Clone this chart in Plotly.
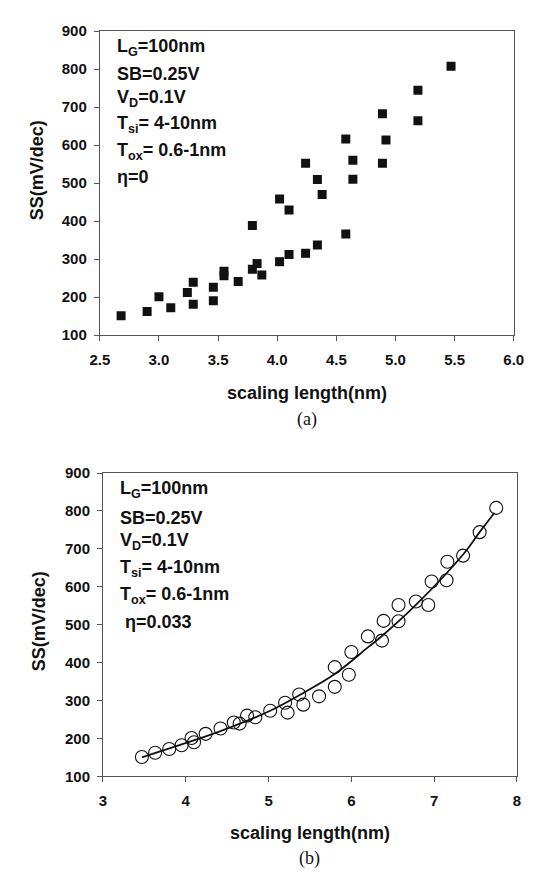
import plotly.graph_objects as go

W, H = 534, 879

# ---- data (a): eta = 0 ----
len_a = [2.68, 2.90, 3.00, 3.10, 3.24, 3.29, 3.29, 3.46, 3.46, 3.55, 3.55, 3.67,
         3.79, 3.79, 3.83, 3.87, 4.02, 4.02, 4.10, 4.10, 4.24, 4.24, 4.34, 4.34,
         4.38, 4.58, 4.58, 4.64, 4.64, 4.89, 4.89, 4.92, 5.19, 5.19, 5.47]
ss_a = [151, 162, 201, 172, 212, 239, 181, 226, 190, 268, 256, 241,
        388, 273, 288, 258, 458, 293, 429, 312, 552, 315, 509, 337,
        470, 616, 366, 560, 510, 682, 552, 613, 744, 664, 807]

# ---- data (b): eta = 0.033 ----
len_b = [3.47, 3.63, 3.80, 3.95, 4.07, 4.10, 4.24, 4.42, 4.58, 4.65, 4.74, 4.84,
         5.02, 5.20, 5.23, 5.37, 5.42, 5.61, 5.80, 5.80, 5.97, 6.00, 6.20, 6.37,
         6.39, 6.57, 6.57, 6.78, 6.93, 6.97, 7.15, 7.16, 7.35, 7.55, 7.75]
ss_b = [151, 162, 172, 182, 201, 190, 212, 226, 242, 239, 260, 256,
        273, 294, 268, 316, 289, 311, 336, 388, 368, 428, 469, 458,
        510, 509, 552, 561, 552, 614, 617, 666, 682, 744, 808]

# fitted curve
fit_x = [3.47, 3.95, 4.42, 5.02, 5.37, 5.80, 6.20, 6.37, 6.78, 7.35, 7.55, 7.73]
fit_y = [150, 184, 219, 273, 314, 370, 440, 470, 552, 685, 744, 795]

x_ticks_a = [2.5, 3.0, 3.5, 4.0, 4.5, 5.0, 5.5, 6.0]
x_ticks_b = [3, 4, 5, 6, 7, 8]
y_ticks = [100, 200, 300, 400, 500, 600, 700, 800, 900]

info_a = ["L<sub>G</sub>=100nm", "SB=0.25V", "V<sub>D</sub>=0.1V",
          "T<sub>si</sub>= 4-10nm", "T<sub>ox</sub>= 0.6-1nm", "η=0"]
info_b = ["L<sub>G</sub>=100nm", "SB=0.25V", "V<sub>D</sub>=0.1V",
          "T<sub>si</sub>= 4-10nm", "T<sub>ox</sub>= 0.6-1nm", " η=0.033"]


def px(x):
    return x / W


def py(y):
    return 1 - y / H


FONT = "Liberation Sans, Arial, sans-serif"
AX_COL = "#555555"

fig = go.Figure()
fig.add_trace(go.Scatter(x=len_a, y=ss_a, mode="markers", xaxis="x", yaxis="y",
                         marker=dict(symbol="square", size=9, color="#111111"),
                         showlegend=False))
fig.add_trace(go.Scatter(x=fit_x, y=fit_y, mode="lines", xaxis="x2", yaxis="y2",
                         line=dict(color="#111111", width=1.8, shape="spline"),
                         showlegend=False))
fig.add_trace(go.Scatter(x=len_b, y=ss_b, mode="markers", xaxis="x2", yaxis="y2",
                         marker=dict(symbol="circle-open", size=13, color="#111111",
                                     line=dict(width=1.1)),
                         showlegend=False))

axis_common = dict(showline=True, linecolor=AX_COL, linewidth=1, mirror=True,
                   ticks="outside", ticklen=5, tickcolor=AX_COL, showgrid=False,
                   zeroline=False,
                   tickfont=dict(family=FONT, size=15, color="#111111", weight="bold"))

fig.update_layout(
    width=W, height=H, margin=dict(l=0, r=0, t=0, b=0),
    paper_bgcolor="white", plot_bgcolor="white",
    xaxis=dict(domain=[px(85), px(515)], range=[2.5, 6.0], tickvals=x_ticks_a,
               tickformat=".1f", anchor="y", ticklabelstandoff=6, **axis_common),
    yaxis=dict(domain=[py(324.3), py(14.3)], range=[100, 900], tickvals=y_ticks,
               anchor="x", ticklabelstandoff=4, **axis_common),
    xaxis2=dict(domain=[px(88.3), px(518.3)], range=[3, 8], tickvals=x_ticks_b,
                anchor="y2", ticklabelstandoff=6, **axis_common),
    yaxis2=dict(domain=[py(774.3), py(465)], range=[100, 900], tickvals=y_ticks,
                anchor="x2", ticklabelstandoff=4, **axis_common),
)

ann = []
title_font = dict(family=FONT, size=18, color="#111111", weight="bold")
info_font = dict(family=FONT, size=18, color="#111111", weight="bold")
cap_font = dict(family="Liberation Serif, Times New Roman, serif", size=18, color="#111111")

# axis titles and captions
ann.append(dict(text="scaling length(nm)", x=px(300), y=py(383), font=title_font))
ann.append(dict(text="SS(mV/dec)", x=px(20), y=py(156), textangle=-90, font=title_font))
ann.append(dict(text="(a)", x=px(300), y=py(410), font=cap_font))
ann.append(dict(text="scaling length(nm)", x=px(303), y=py(832), font=title_font))
ann.append(dict(text="SS(mV/dec)", x=px(22), y=py(616), textangle=-90, font=title_font))
ann.append(dict(text="(b)", x=px(303), y=py(858), font=cap_font))

ys_a = [31, 58, 83, 110, 137, 163]
ys_b = [482, 511, 535, 562, 590, 617]
for t, yy in zip(info_a, ys_a):
    ann.append(dict(text=t, x=px(101), y=py(yy), xanchor="left", font=info_font))
for t, yy in zip(info_b, ys_b):
    ann.append(dict(text=t, x=px(104), y=py(yy), xanchor="left", font=info_font))

for a in ann:
    a.setdefault("xanchor", "center")
    a.update(xref="paper", yref="paper", yanchor="middle", showarrow=False)
fig.update_layout(annotations=ann)

fig.write_html("out.html")
